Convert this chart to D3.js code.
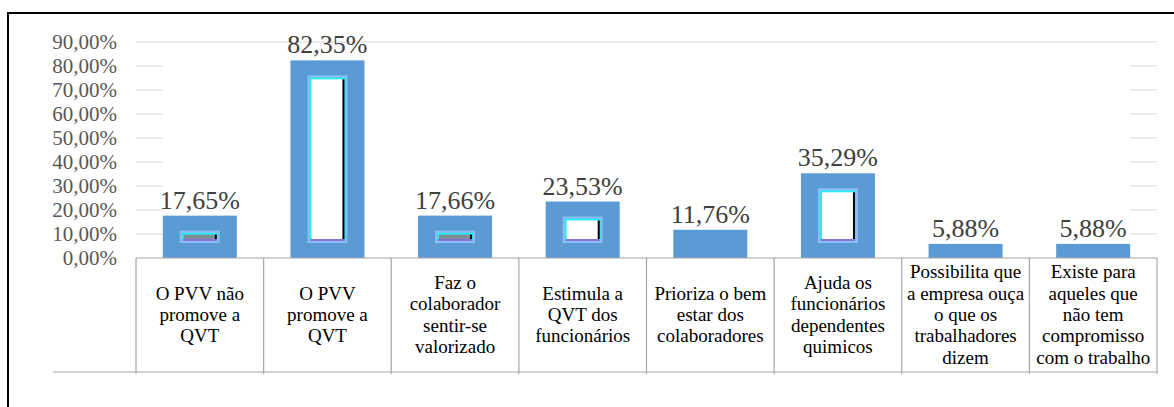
<!DOCTYPE html>
<html>
<head>
<meta charset="utf-8">
<script src="https://cdn.jsdelivr.net/npm/d3@7"></script>
<style>
  body { margin: 0; background: #fff; }
</style>
</head>
<body>
<div id="chart"></div>
<script>
// data
var categories = ["c1", "c2", "c3", "c4", "c5", "c6", "c7", "c8"];
var categoryLines = [
  ["O PVV não", "promove a", "QVT"],
  ["O PVV", "promove a", "QVT"],
  ["Faz o", "colaborador", "sentir-se", "valorizado"],
  ["Estimula a", "QVT dos", "funcionários"],
  ["Prioriza o bem", "estar dos", "colaboradores"],
  ["Ajuda os", "funcionários", "dependentes", "quimicos"],
  ["Possibilita que", "a empresa ouça", "o que os", "trabalhadores", "dizem"],
  ["Existe para", "aqueles que", "não tem", "compromisso", "com o trabalho"]
];
var values = [17.65, 82.35, 17.66, 23.53, 11.76, 35.29, 5.88, 5.88];
var yTicks = [0, 10, 20, 30, 40, 50, 60, 70, 80, 90];

var W = 1174, H = 407;
var margin = {top: 42, left: 136, right: 17, bottom: 149};
var serif = "'Liberation Serif', 'Times New Roman', Times, 'DejaVu Serif', serif";

var svg = d3.select("#chart").append("svg")
  .attr("width", W)
  .attr("height", H)
  .attr("font-family", serif)
  .style("font-family", serif);

// outer frame
svg.append("rect")
  .attr("x", 8).attr("y", 13)
  .attr("width", W + 20).attr("height", H + 20)
  .attr("fill", "none")
  .attr("stroke", "#000")
  .attr("stroke-width", 2);

var br = d3.formatLocale({decimal: ",", thousands: ".", grouping: [3], currency: ["", ""]});
var fmt = br.format(".2f");

var x = d3.scaleBand()
  .domain(categories)
  .range([margin.left, W - margin.right])
  .paddingInner(0.42)
  .paddingOuter(0.21);

var y = d3.scaleLinear()
  .domain([0, 90])
  .range([H - margin.bottom, margin.top]);

var x0 = x.range()[0], x1 = x.range()[1];
var firstBar = x(categories[0]);
var lastBar = x(categories[categories.length - 1]) + x.bandwidth();

// gridlines (only visible in the outer gaps, top one full width)
var grid = svg.append("g").attr("stroke", "#d9d9d9").attr("stroke-width", 1);
yTicks.filter(function(d){ return d > 0; }).forEach(function(d) {
  if (d === 90) {
    grid.append("line").attr("x1", x0).attr("x2", x1)
      .attr("y1", y(d)).attr("y2", y(d));
  } else {
    grid.append("line").attr("x1", x0).attr("x2", firstBar)
      .attr("y1", y(d)).attr("y2", y(d));
    grid.append("line").attr("x1", lastBar).attr("x2", x1)
      .attr("y1", y(d)).attr("y2", y(d));
  }
});

// y tick labels
svg.append("g")
  .selectAll("text")
  .data(yTicks)
  .enter()
  .append("text")
    .attr("x", x0 - 19)
    .attr("y", function(d){ return y(d); })
    .attr("dy", "0.34em")
    .attr("text-anchor", "end")
    .attr("font-size", 21)
    .attr("fill", "#595959")
    .text(function(d){ return fmt(d) + "%"; });

// bars
var bars = svg.append("g")
  .selectAll("g")
  .data(values)
  .enter()
  .append("g");

bars.append("rect")
  .attr("x", function(d, i){ return x(categories[i]); })
  .attr("y", function(d){ return y(d); })
  .attr("width", x.bandwidth())
  .attr("height", function(d){ return y(0) - y(d); })
  .attr("fill", "#5b9bd5");

// hollow-looking inner part of the bars
var insetX = 20, insetY = 18;
bars.each(function(d, i) {
  var h = y(0) - y(d) - 2 * insetY;
  if (h < 3) return;
  var g = d3.select(this);
  var bx = x(categories[i]) + insetX, bw = x.bandwidth() - 2 * insetX, by = y(d) + insetY;
  g.append("rect")
    .attr("x", bx - 3).attr("y", by - 3)
    .attr("width", bw + 6).attr("height", h + 6)
    .attr("fill", "#8cbcf0");
  g.append("rect")
    .attr("x", bx).attr("y", by)
    .attr("width", bw).attr("height", h)
    .attr("fill", h > 8 ? "#fff" : "#7f8f9a")
    .attr("stroke", "#2fe8f0")
    .attr("stroke-width", 2);
  g.append("line")
    .attr("x1", bx).attr("x2", bx + bw)
    .attr("y1", by + h).attr("y2", by + h)
    .attr("stroke", "#8a6fd8").attr("stroke-width", 2);
  g.append("line")
    .attr("x1", bx + bw - 1).attr("x2", bx + bw - 1)
    .attr("y1", by + 1).attr("y2", by + h - 1)
    .attr("stroke", "#000").attr("stroke-width", 2);
});

// data labels
bars.append("text")
  .attr("x", function(d, i){ return x(categories[i]) + x.bandwidth() / 2; })
  .attr("y", function(d){ return y(d) - 7; })
  .attr("text-anchor", "middle")
  .attr("font-size", 26)
  .attr("fill", "#404040")
  .text(function(d){ return fmt(d) + "%"; });

// category table under the axis
var tableTop = y(0), tableBottom = 372;
var table = svg.append("g").attr("stroke", "#a6a6a6").attr("stroke-width", 1.2);
table.append("line")
  .attr("x1", x0).attr("x2", x1)
  .attr("y1", tableTop).attr("y2", tableTop);
table.append("line")
  .attr("x1", 53).attr("x2", x1)
  .attr("y1", tableBottom).attr("y2", tableBottom);
d3.range(categories.length + 1).forEach(function(i) {
  var xx = x0 + i * x.step();
  table.append("line")
    .attr("x1", xx).attr("x2", xx)
    .attr("y1", tableTop).attr("y2", tableBottom + 2);
});

var lineH = 21.4, midY = 321;
var cells = svg.append("g")
  .selectAll("text")
  .data(categoryLines)
  .enter()
  .append("text")
    .attr("text-anchor", "middle")
    .attr("font-size", 19)
    .attr("fill", "#000");
cells.each(function(lines, i) {
  var cx = x0 + (i + 0.5) * x.step();
  var n = lines.length;
  d3.select(this).selectAll("tspan")
    .data(lines)
    .enter()
    .append("tspan")
      .attr("x", cx)
      .attr("y", function(d, j){ return midY + (j - (n - 1) / 2) * lineH; })
      .text(function(d){ return d; });
});
</script>
</body>
</html>
